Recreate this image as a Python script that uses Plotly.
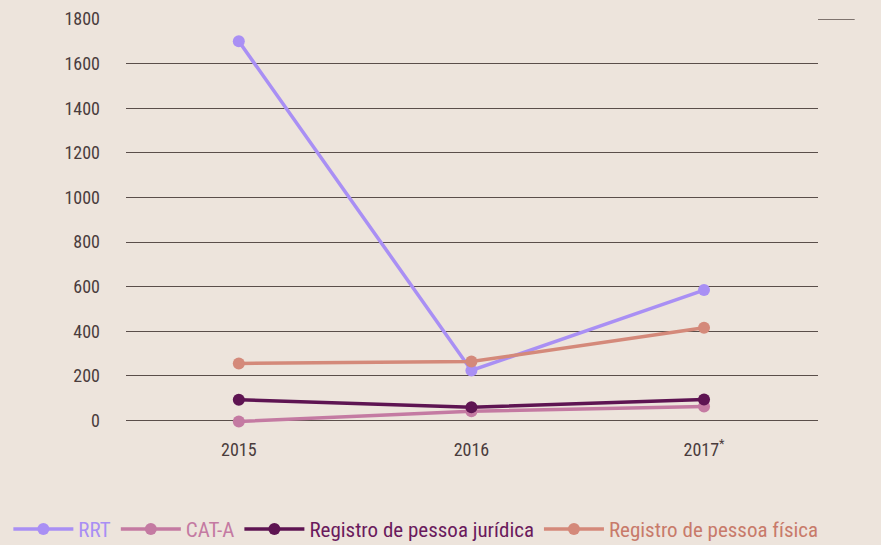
import plotly.graph_objects as go

years = ["2015", "2016", "2017<sup>*</sup>"]
rrt = [1700, 225, 585]
cat_a = [-4, 42, 63]
pj = [94, 60, 95]
pf = [256, 265, 416]

series_names = ["RRT", "CAT-A", "Registro de pessoa jurídica", "Registro de pessoa física"]
line_colors = ["#a98ff4", "#c47aa2", "#5e1452", "#d4897a"]
text_colors = ["#a98ff4", "#c47aa2", "#6a1a5c", "#c87a6a"]
values = [rrt, cat_a, pj, pf]

FONT = "Liberation Sans Narrow, Roboto Condensed, Roboto, sans-serif"

fig = go.Figure()
for name, vals, lc, tc in zip(series_names, values, line_colors, text_colors):
    fig.add_trace(go.Scatter(
        x=years, y=vals, mode="lines+markers",
        name=f"<span style='color:{tc}'>{name}</span>",
        line=dict(color=lc, width=3.5),
        marker=dict(color=lc, size=12),
        cliponaxis=False,
    ))

fig.update_layout(
    width=881, height=545,
    paper_bgcolor="#ede4dc", plot_bgcolor="#ede4dc",
    margin=dict(l=126, r=63, t=19, b=111, autoexpand=False),
    font=dict(family=FONT, size=18, color="#4a3c3c"),
    showlegend=True,
    legend=dict(orientation="h", x=-0.17, xanchor="left", y=-0.23, yanchor="middle",
                font=dict(family=FONT, size=21), itemwidth=60,
                bgcolor="rgba(0,0,0,0)", borderwidth=0),
    xaxis=dict(type="category", range=[-0.485, 2.49], showgrid=False,
               zeroline=False, showline=False, ticks="", ticklabelstandoff=3,
               tickfont=dict(size=18, color="#4a3c3c")),
    yaxis=dict(range=[-60, 1800], tickvals=[0, 200, 400, 600, 800, 1000, 1200, 1400, 1600, 1800],
               showgrid=True, gridcolor="#5a4e4a", gridwidth=1, zeroline=False,
               showline=False, ticks="", ticklabelstandoff=25,
               tickfont=dict(size=18, color="#4a3c3c")),
)
fig.add_shape(type="line", xref="paper", yref="y", x0=1.0, x1=1.053, y0=1800, y1=1800,
              line=dict(color="#5a4e4a", width=1.5))

fig.write_html("out.html", config={"displayModeBar": False},
               post_script="document.body.style.margin='0';")
